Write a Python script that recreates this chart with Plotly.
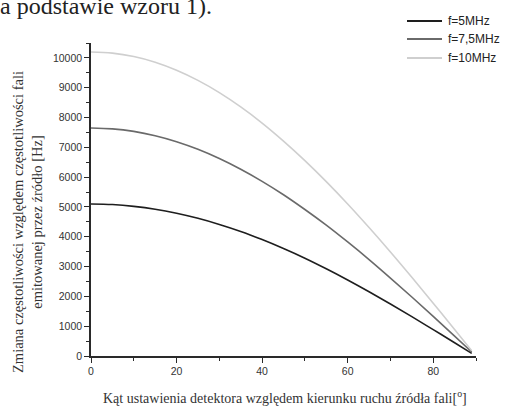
import plotly.graph_objects as go

# Data
angle = [0, 5, 10, 15, 20, 25, 30, 35, 40, 45, 50, 55, 60, 65, 70, 75, 80, 85, 89]
f5 = [5100, 5080, 5020, 4925, 4790, 4620, 4415, 4180, 3905, 3605, 3280, 2925, 2550, 2155, 1745, 1320, 885, 445, 90]
f75 = [7650, 7620, 7535, 7390, 7190, 6935, 6625, 6265, 5860, 5410, 4915, 4390, 3825, 3235, 2615, 1980, 1330, 665, 135]
f10 = [10200, 10160, 10045, 9855, 9585, 9245, 8835, 8355, 7815, 7210, 6555, 5850, 5100, 4310, 3490, 2640, 1770, 890, 180]
series_names = ["f=5MHz", "f=7,5MHz", "f=10MHz"]
series_colors = ["#1e1e1e", "#6a6a6a", "#cfcfcf"]
y_ticks = [0, 1000, 2000, 3000, 4000, 5000, 6000, 7000, 8000, 9000, 10000]
y_ticktext = [str(v) for v in y_ticks]
x_ticks = [0, 20, 40, 60, 80]

W, H = 511, 407
L, R, T, B = 91, 35, 43, 51
pw, ph = W - L - R, H - T - B

def px(x):
    return (x - L) / pw

def py(y):
    return (H - B - y) / ph

fig = go.Figure()
for name, ys, col in zip(series_names, [f5, f75, f10], series_colors):
    fig.add_trace(go.Scatter(x=angle, y=ys, mode="lines", name=name, showlegend=False,
                             line=dict(color=col, width=1.6, shape="spline")))

# manual legend (outside plot, top right)
legend_rows = [21, 39, 58]
for name, col, ry in zip(series_names, series_colors, legend_rows):
    fig.add_shape(type="line", xref="paper", yref="paper",
                  x0=px(407), x1=px(442), y0=py(ry), y1=py(ry),
                  line=dict(color=col, width=1.8))
    fig.add_annotation(text=name, xref="paper", yref="paper", x=px(446), y=py(ry),
                       showarrow=False, xanchor="left", yanchor="middle",
                       font=dict(family="Liberation Sans", size=12, color="#222"))

axis_common = dict(showline=True, linecolor="#2a2a2a", linewidth=1.5,
                   ticks="outside", tickcolor="#2a2a2a", tickwidth=1.3,
                   showgrid=False, zeroline=False,
                   tickfont=dict(family="Liberation Sans", size=10.5, color="#333"))

fig.update_xaxes(range=[0, 90], tickvals=x_ticks, ticklen=5,
                 minor=dict(dtick=10, ticks="outside", ticklen=3, tickcolor="#2a2a2a", tickwidth=1.2),
                 **axis_common)
fig.update_yaxes(range=[0, 10500], tickvals=y_ticks, ticktext=y_ticktext, ticklen=5,
                 minor=dict(dtick=500, ticks="outside", ticklen=3, tickcolor="#2a2a2a", tickwidth=1.2),
                 **axis_common)

fig.add_annotation(text="Zmiana częstotliwości względem częstotliwości fali<br>emitowanej przez źródło [Hz]",
                   xref="paper", yref="paper", x=px(27), y=py(222), textangle=-90,
                   showarrow=False, xanchor="center", yanchor="middle",
                   font=dict(family="Liberation Serif", size=14.5, color="#333"))
fig.add_annotation(text="Kąt ustawienia detektora względem kierunku ruchu źródła fali[<sup>o</sup>]",
                   xref="paper", yref="paper", x=px(285), y=py(397),
                   showarrow=False, xanchor="center", yanchor="middle",
                   font=dict(family="Liberation Serif", size=14, color="#333"))
fig.add_annotation(text="a podstawie wzoru 1).",
                   xref="paper", yref="paper", x=px(-2), y=py(6),
                   showarrow=False, xanchor="left", yanchor="middle",
                   font=dict(family="Liberation Serif", size=24, color="#222"))

fig.update_layout(width=W, height=H, margin=dict(l=L, r=R, t=T, b=B, autoexpand=False),
                  paper_bgcolor="white", plot_bgcolor="white", showlegend=False)

fig.write_html("out.html")
